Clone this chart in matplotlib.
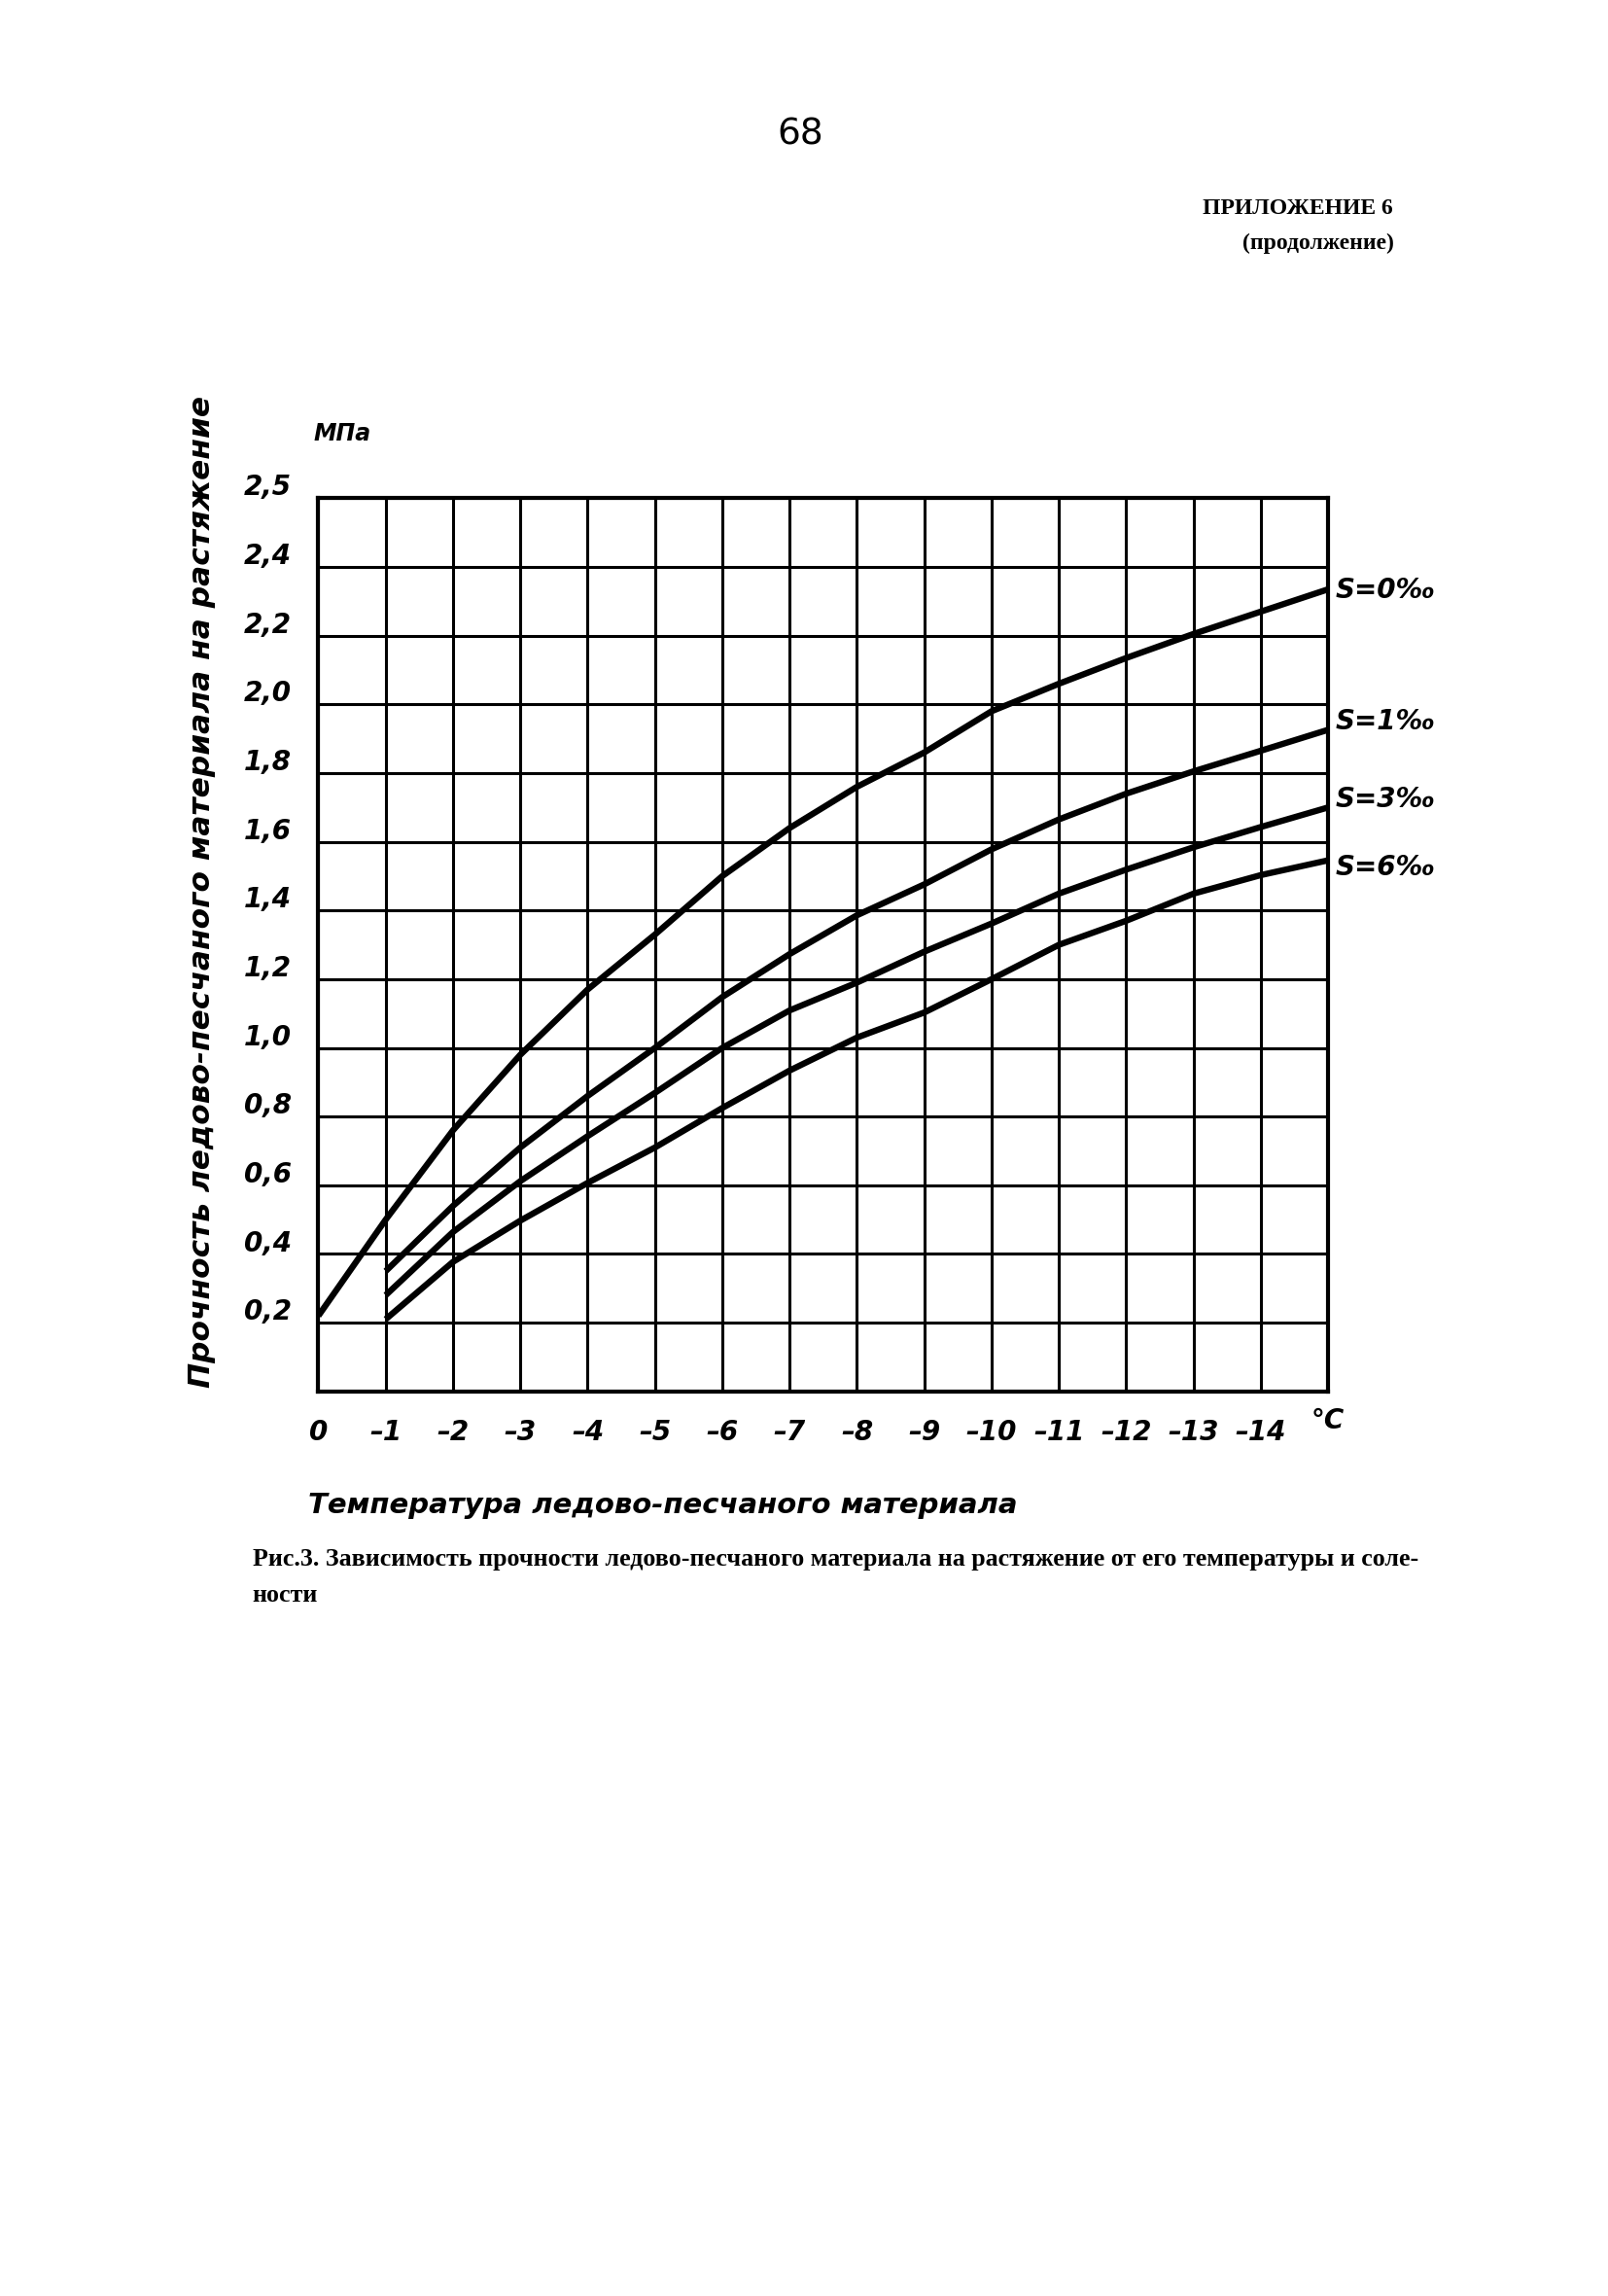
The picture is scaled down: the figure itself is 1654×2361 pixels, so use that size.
import matplotlib
matplotlib.use("Agg")
import matplotlib.pyplot as plt
import matplotlib.transforms as mtransforms

# temperature, deg C
t_s0 = [0, -1, -2, -3, -4, -5, -6, -7, -8, -9, -10, -11, -12, -13, -14, -15]
t_s = [-1, -2, -3, -4, -5, -6, -7, -8, -9, -10, -11, -12, -13, -14, -15]

# tensile strength, MPa
s0 = [0.22, 0.50, 0.76, 0.98, 1.17, 1.33, 1.50, 1.64, 1.76, 1.86, 1.98, 2.06, 2.135, 2.205, 2.27, 2.335]
s1 = [0.35, 0.54, 0.71, 0.86, 1.00, 1.148, 1.273, 1.386, 1.476, 1.578, 1.665, 1.74, 1.805, 1.865, 1.926]
s3 = [0.28, 0.464, 0.612, 0.743, 0.869, 1.00, 1.109, 1.19, 1.28, 1.362, 1.449, 1.519, 1.584, 1.643, 1.70]
s6 = [0.21, 0.377, 0.497, 0.607, 0.71, 0.825, 0.934, 1.03, 1.103, 1.20, 1.30, 1.37, 1.449, 1.503, 1.546]

series = [(t_s0, s0, "S=0‰"), (t_s, s1, "S=1‰"), (t_s, s3, "S=3‰"), (t_s, s6, "S=6‰")]
label_dy = [-1, 6, 6, -5]  # points, label shift next to the curve end

x_ticks = list(range(0, -16, -1))
x_labels = ["0"] + ["–%d" % i for i in range(1, 15)] + ["°C"]
y_ticks = [0.2, 0.4, 0.6, 0.8, 1.0, 1.2, 1.4, 1.6, 1.8, 2.0, 2.2, 2.4, 2.6]
y_labels = ["0,2", "0,4", "0,6", "0,8", "1,0", "1,2", "1,4", "1,6", "1,8", "2,0", "2,2", "2,4", "2,5"]

hand = dict(family="DejaVu Sans", style="italic", weight="bold")

fig = plt.figure(figsize=(16.54, 23.61), dpi=100)
ax = fig.add_axes([0.198, 0.394, 0.628, 0.389])

for (t, s, name), dy in zip(series, label_dy):
    ax.plot(t, s, color="black", lw=4.6, solid_capstyle="butt", zorder=3)
    ax.annotate(name, xy=(t[-1], s[-1]), xytext=(5, dy), textcoords="offset points",
                ha="left", va="center", fontsize=20, annotation_clip=False, **hand)

ax.set_xlim(0, -15)
ax.set_ylim(0, 2.6)
ax.set_xticks(x_ticks)
ax.set_xticklabels(x_labels, fontsize=20, **hand)
ax.set_yticks([0] + y_ticks)
ax.set_yticklabels([""] + y_labels, fontsize=20, **hand)
ax.tick_params(length=0)
ax.tick_params(axis="x", pad=20)
ax.tick_params(axis="y", pad=20)
ax.grid(True, color="black", lw=2.2)
for sp in ax.spines.values():
    sp.set_linewidth(3)

# y labels sit a bit above their grid lines, the °C mark is raised
up = mtransforms.ScaledTranslation(0, 10 / 72, fig.dpi_scale_trans)
for lab in ax.get_yticklabels():
    lab.set_transform(lab.get_transform() + up)
xl = ax.get_xticklabels()[-1]
xl.set_transform(xl.get_transform() + mtransforms.ScaledTranslation(0, 8 / 72, fig.dpi_scale_trans))

ax.set_ylabel("Прочность ледово-песчаного материала на растяжение", fontsize=22.5, **hand)
ax.yaxis.set_label_coords(-0.102, 0.559)
ax.set_xlabel("Температура ледово-песчаного материала", fontsize=21, **hand)
ax.xaxis.set_label_coords(-0.01, -0.112)
ax.xaxis.label.set_horizontalalignment("left")
ax.text(-0.005, 1.072, "МПа", transform=ax.transAxes, fontsize=17, ha="left", va="center", **hand)

fig.text(0.498, 0.9415, "68", fontsize=27, ha="center", va="center", family="DejaVu Sans")
fig.text(0.866, 0.909, "ПРИЛОЖЕНИЕ 6", fontsize=17, ha="right", va="center",
         family="Liberation Serif", weight="bold")
fig.text(0.867, 0.894, "(продолжение)", fontsize=17, ha="right", va="center",
         family="Liberation Serif", weight="bold")
fig.text(0.157, 0.321, "Рис.3. Зависимость прочности ледово-песчаного материала на растяжение от его температуры и соле-",
         fontsize=18.7, ha="left", va="center", family="Liberation Serif", weight="bold")
fig.text(0.157, 0.305, "ности", fontsize=18.7, ha="left", va="center", family="Liberation Serif", weight="bold")

fig.savefig("out.png", dpi=100, facecolor="white")
